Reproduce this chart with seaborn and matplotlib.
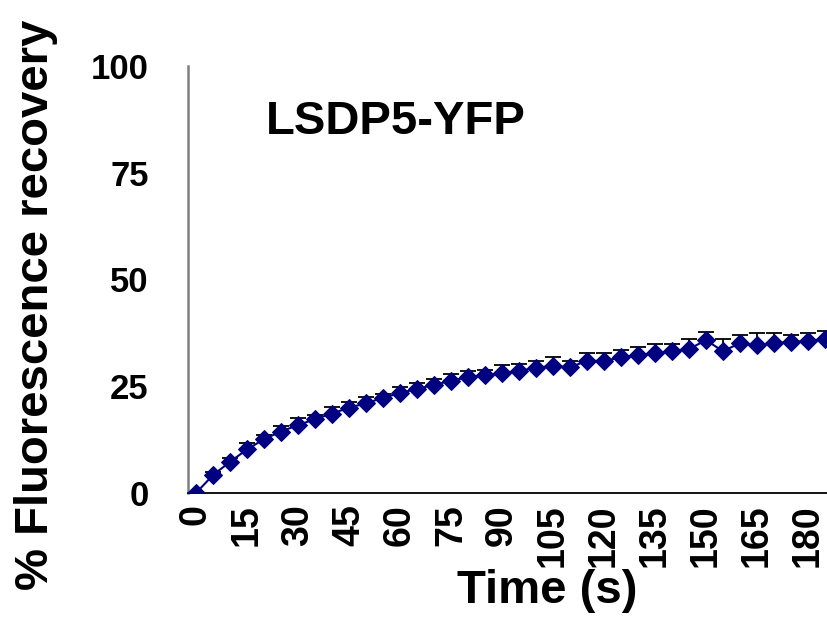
import matplotlib
matplotlib.use("Agg")
import matplotlib.pyplot as plt
import numpy as np
import pandas as pd
import seaborn as sns

# FRAP recovery data
time_s = [0, 5, 10, 15, 20, 25, 30, 35, 40, 45, 50, 55, 60, 65, 70, 75, 80, 85, 90,
          95, 100, 105, 110, 115, 120, 125, 130, 135, 140, 145, 150, 155, 160, 165,
          170, 175, 180, 185]
recovery = [0.0, 4.2, 7.3, 10.2, 12.6, 14.4, 15.9, 17.3, 18.6, 20.0, 21.0, 22.3, 23.4,
            24.4, 25.3, 26.3, 27.1, 27.6, 28.1, 28.6, 29.3, 29.8, 29.4, 31.0, 30.9,
            31.8, 32.3, 32.7, 33.3, 33.7, 35.8, 33.2, 35.1, 34.6, 35.2, 35.3, 35.7, 36.0]
sem = [0.0, 0.8, 1.0, 1.4, 0.9, 1.3, 1.6, 1.0, 1.6, 1.2, 1.4, 1.0, 1.4, 1.4, 1.5, 1.5,
       1.4, 1.3, 1.8, 1.7, 1.6, 2.0, 1.4, 1.7, 1.8, 1.7, 1.8, 2.3, 1.7, 2.3, 2.0, 2.9,
       2.0, 2.9, 2.2, 1.7, 1.7, 2.0]
x_labels = [0, 15, 30, 45, 60, 75, 90, 105, 120, 135, 150, 165, 180]
y_labels = [0, 25, 50, 75, 100]

df = pd.DataFrame({"Time": time_s, "Recovery": recovery, "SEM": sem})

sns.set_style("white")
plt.rcParams['font.family'] = ['Liberation Sans', 'DejaVu Sans']
plt.rcParams['font.weight'] = 'bold'
plt.rcParams['text.color'] = 'black'
plt.rcParams['xtick.color'] = 'black'
plt.rcParams['ytick.color'] = 'black'

fig = plt.figure(figsize=(8.27, 6.25), dpi=100)
ax = fig.add_axes([187.5 / 827, 1 - 493 / 625, (827 - 187.5) / 827, (493 - 66) / 625])

navy = "#000080"

# upward-only error bars, drawn under the markers
ax.errorbar(df["Time"], df["Recovery"], yerr=[np.zeros(len(df)), df["SEM"]],
            fmt="none", ecolor="black", elinewidth=1.3, capsize=5.5, capthick=1.3,
            zorder=2)
sns.lineplot(data=df, x="Time", y="Recovery", ax=ax, color=navy, linewidth=1.5,
             marker="D", markersize=9, markeredgecolor=navy, markerfacecolor=navy,
             zorder=3)

ax.set_xlim(-2.5, 185.6)
ax.set_ylim(0, 100)

ax.set_xticks(x_labels)
ax.set_xticklabels([str(v) for v in x_labels], rotation=90, fontsize=27, fontweight='bold')
ax.set_xticks(np.arange(2.5, 186, 5), minor=True)
ax.tick_params(axis='x', which='major', length=0, pad=8)
ax.tick_params(axis='x', which='minor', length=6, width=1, color='#333333', direction='out')

ax.set_yticks(y_labels)
ax.set_yticklabels([str(v) for v in y_labels], fontsize=25, fontweight='bold')
ax.tick_params(axis='y', length=6, width=1, color='#333333', direction='out', pad=22)

for side in ['top', 'right']:
    ax.spines[side].set_visible(False)
ax.spines['left'].set_color('#808080')
ax.spines['left'].set_linewidth(1.8)
ax.spines['bottom'].set_color('black')
ax.spines['bottom'].set_linewidth(1.3)

ax.set_xlabel("")
ax.set_ylabel("")

fig.text(396 / 827, 1 - 122 / 625, "LSDP5-YFP", ha='center', va='center',
         fontsize=34, fontweight='bold')
fig.text(547 / 827, 1 - 603 / 625, "Time (s)", ha='center', va='baseline',
         fontsize=34, fontweight='bold')
fig.text(36 / 827, 1 - 305 / 625, "% Fluorescence recovery", ha='center', va='center',
         rotation=90, fontsize=34, fontweight='bold')

fig.savefig("out.png", dpi=100)
